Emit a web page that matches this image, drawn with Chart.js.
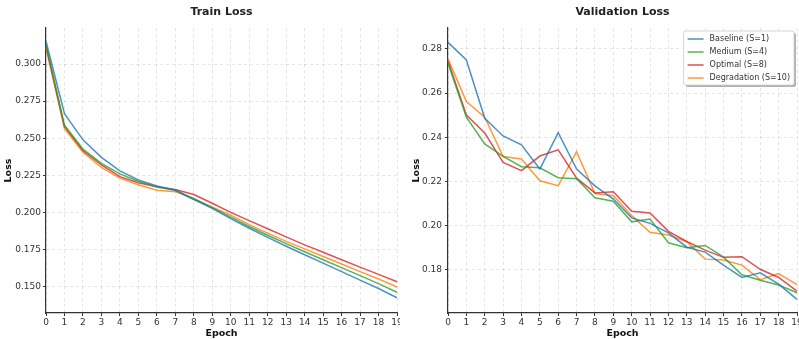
<!DOCTYPE html>
<html><head><meta charset="utf-8">
<script src="https://cdn.jsdelivr.net/npm/chart.js@4.4.0/dist/chart.umd.min.js"></script>
<style>
html,body{margin:0;padding:0;background:#fff;overflow:hidden;width:799px;height:339px;}
#c1{position:absolute;left:0;top:0;}
#c2{position:absolute;left:400px;top:0;}
</style></head><body>
<canvas id="c1" width="400" height="339"></canvas>
<canvas id="c2" width="400" height="339"></canvas>
<script>
const epochs = ["0","1","2","3","4","5","6","7","8","9","10","11","12","13","14","15","16","17","18","19"];
const seriesNames = ["Baseline (S=1)", "Medium (S=4)", "Optimal (S=8)", "Degradation (S=10)"];

const trainBaseline = [0.3154,0.2666,0.2489,0.2371,0.2280,0.2219,0.2178,0.2149,0.2087,0.2027,0.1958,0.1893,0.1832,0.1772,0.1715,0.1658,0.1601,0.1544,0.1487,0.1425];
const trainMedium   = [0.3130,0.2587,0.2427,0.2330,0.2260,0.2210,0.2171,0.2149,0.2092,0.2032,0.1968,0.1905,0.1846,0.1790,0.1735,0.1681,0.1628,0.1574,0.1520,0.1462];
const trainOptimal  = [0.3120,0.2580,0.2416,0.2321,0.2241,0.2200,0.2173,0.2155,0.2121,0.2062,0.2000,0.1945,0.1890,0.1835,0.1781,0.1731,0.1681,0.1631,0.1582,0.1533];
const trainDegrad   = [0.3109,0.2564,0.2405,0.2303,0.2231,0.2186,0.2149,0.2140,0.2092,0.2035,0.1982,0.1918,0.1860,0.1805,0.1754,0.1703,0.1652,0.1601,0.1551,0.1497];

const valBaseline = [0.2830,0.2750,0.2486,0.2406,0.2366,0.2256,0.2421,0.2256,0.2180,0.2120,0.2035,0.2010,0.1967,0.1902,0.1880,0.1821,0.1765,0.1786,0.1735,0.1666];
const valMedium   = [0.2735,0.2491,0.2370,0.2313,0.2267,0.2262,0.2217,0.2212,0.2126,0.2110,0.2017,0.2030,0.1922,0.1900,0.1910,0.1857,0.1777,0.1752,0.1731,0.1696];
const valOptimal  = [0.2745,0.2501,0.2419,0.2286,0.2249,0.2315,0.2343,0.2215,0.2148,0.2153,0.2065,0.2057,0.1974,0.1928,0.1889,0.1856,0.1859,0.1802,0.1765,0.1703];
const valDegrad   = [0.2755,0.2562,0.2491,0.2313,0.2302,0.2203,0.2181,0.2335,0.2145,0.2135,0.2045,0.1970,0.1957,0.1927,0.1848,0.1844,0.1821,0.1755,0.1783,0.1733];

const trainTicks = [0.150,0.175,0.200,0.225,0.250,0.275,0.300];
const valTicks = [0.18,0.20,0.22,0.24,0.26,0.28];

const colors = ["rgba(31,119,180,0.8)","rgba(44,160,44,0.8)","rgba(214,39,40,0.8)","rgba(255,127,14,0.8)"];
const FONT = "'DejaVu Sans', sans-serif";

function roundRect(ctx, x, y, w, h, r){
  ctx.beginPath();
  ctx.moveTo(x+r,y); ctx.lineTo(x+w-r,y); ctx.quadraticCurveTo(x+w,y,x+w,y+r);
  ctx.lineTo(x+w,y+h-r); ctx.quadraticCurveTo(x+w,y+h,x+w-r,y+h);
  ctx.lineTo(x+r,y+h); ctx.quadraticCurveTo(x,y+h,x,y+h-r);
  ctx.lineTo(x,y+r); ctx.quadraticCurveTo(x,y,x+r,y); ctx.closePath();
}

const mplLegend = {
  id:'mplLegend',
  afterDraw(chart){
    const ctx = chart.ctx, a = chart.chartArea, ds = chart.data.datasets;
    ctx.save();
    ctx.font = "8px " + FONT;
    const tw = Math.max(...ds.map(d => ctx.measureText(d.label).width));
    const padX = 4, lineLen = 16, gap = 6, rowH = 13;
    const w = padX + lineLen + gap + tw + padX;
    const h = ds.length*rowH + 2;
    const x = a.right - 3 - w, y = a.top + 3;
    ctx.fillStyle = 'rgba(0,0,0,0.3)';
    roundRect(ctx, x+2, y+2, w, h, 2); ctx.fill();
    ctx.fillStyle = '#fff'; ctx.strokeStyle = '#cccccc'; ctx.lineWidth = 0.8;
    roundRect(ctx, x, y, w, h, 2); ctx.fill(); ctx.stroke();
    ds.forEach((d,i) => {
      const cy = y + 8 + i*rowH;
      ctx.strokeStyle = d.borderColor; ctx.lineWidth = 1.5;
      ctx.beginPath(); ctx.moveTo(x+padX, cy); ctx.lineTo(x+padX+lineLen, cy); ctx.stroke();
      ctx.fillStyle = '#333'; ctx.textBaseline = 'middle'; ctx.textAlign = 'left';
      ctx.fillText(d.label, x+padX+lineLen+gap, cy);
    });
    ctx.restore();
  }
};

function makeChart(id, title, series, yTicks, yMin, yMax, decimals, yAxisWidth, yTitlePad, yLabelPad, withLegend){
  const gridCommon = {color:'rgba(0,0,0,0.13)', lineWidth:0.8, tickColor:'#333', tickLength:3, tickBorderDash:[], tickWidth:1};
  const borderCommon = {display:true, color:'#333', width:1.2, dash:[3,3]};
  return new Chart(document.getElementById(id), {
    type:'line',
    data:{
      labels: epochs,
      datasets: seriesNames.map((n,i) => ({label:n, data:series[i], borderColor:colors[i], backgroundColor:colors[i], borderWidth:1.5, pointRadius:0, tension:0, fill:false}))
    },
    options:{
      responsive:false, animation:false, devicePixelRatio:1,
      layout:{padding:{left:0,right:3,top:0,bottom:0}},
      plugins:{
        legend:{display:false}, tooltip:{enabled:false},
        title:{display:true, text:title, fullSize:false, color:'#222',
               font:{family:FONT, size:11, weight:'bold'}, padding:{top:6,bottom:8.8}}
      },
      scales:{
        x:{
          type:'category', offset:false,
          grid:gridCommon, border:borderCommon,
          ticks:{font:{family:FONT,size:9}, color:'#333', padding:1, maxRotation:0, autoSkip:false},
          title:{display:true, text:'Epoch', color:'#111', font:{family:FONT,size:9.5,weight:'bold'}, padding:0},
          afterFit(s){ s.height = 26; s.paddingLeft = 0; s.paddingRight = 0; }
        },
        y:{
          type:'linear', min:yMin, max:yMax,
          afterBuildTicks(s){ s.ticks = yTicks.map(v => ({value:v})); },
          grid:gridCommon, border:borderCommon,
          ticks:{font:{family:FONT,size:9}, color:'#333', padding:yLabelPad, callback:v => Number(v).toFixed(decimals)},
          title:{display:true, text:'Loss', color:'#111', font:{family:FONT,size:9.5,weight:'bold'}, padding:{top:yTitlePad,bottom:0}},
          afterFit(s){ s.width = yAxisWidth; s.paddingTop = 0; s.paddingBottom = 0; }
        }
      }
    },
    plugins: withLegend ? [mplLegend] : []
  });
}

makeChart('c1', 'Train Loss', [trainBaseline, trainMedium, trainOptimal, trainDegrad], trainTicks, 0.1322, 0.3243, 3, 46, 3.3, 2, false);
makeChart('c2', 'Validation Loss', [valBaseline, valMedium, valOptimal, valDegrad], valTicks, 0.1604, 0.2895, 2, 48, 10.8, 3, true);
</script>
</body></html>
